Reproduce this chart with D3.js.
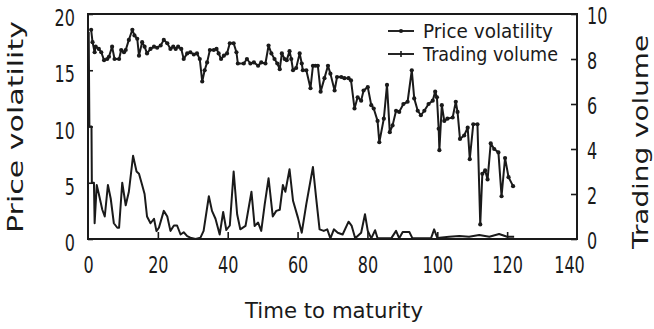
<!DOCTYPE html>
<html>
<head>
<meta charset="utf-8">
<script src="https://cdn.jsdelivr.net/npm/d3@7"></script>
<style>
  html, body { margin: 0; padding: 0; background: #fff; }
  svg { display: block; }
  text { fill: #1a1a1a; font-family: "DejaVu Sans", sans-serif; }
</style>
</head>
<body>
<svg id="chart" width="654" height="329"></svg>
<script>
// Days to maturity and price volatility (left axis)
const volatilityDays = [0.9,1.3,1.9,2.2,3.1,3.8,4.6,5.5,6.0,6.9,
  7.6,8.9,9.5,10.3,10.8,11.7,12.7,13.3,14.1,14.6,
  15.5,16.2,16.9,17.9,18.9,19.8,20.8,21.7,22.7,23.6,
  24.4,25.1,25.8,26.7,27.4,28.4,29.3,30.3,31.2,32.0,
  32.7,33.4,34.1,34.9,36.0,36.8,37.4,38.1,38.9,39.8,
  40.6,41.7,42.5,42.9,44.6,45.5,46.5,47.5,48.7,49.6,
  50.8,51.7,52.5,53.4,54.2,54.9,55.5,56.3,56.9,57.7,
  58.2,58.7,59.6,60.6,61.2,61.5,62.5,63.7,64.4,65.1,
  65.8,66.6,67.7,68.7,69.4,70.6,71.3,72.5,73.4,74.6,
  75.3,76.3,77.2,78.2,78.9,80.1,81.1,81.8,82.9,83.4,
  84.7,85.6,86.4,87.2,88.2,89.1,90.3,91.5,92.7,93.4,
  94.4,95.3,96.3,97.5,98.7,99.4,99.9,100.4,100.6,101.3,
  102.0,102.9,104.4,105.3,105.8,106.5,107.7,108.7,109.3,110.3,
  111.5,112.3,112.9,113.7,114.4,115.3,116.3,117.5,118.4,119.4,
  120.4,121.7];
const volatilityValues = [18.6,17.5,16.6,17.1,16.9,16.6,15.9,16.0,16.2,17.1,
  16.0,16.0,16.8,16.6,16.8,17.7,18.6,18.1,17.8,16.3,
  17.5,17.1,16.5,16.9,17.1,17.0,17.2,17.7,17.4,16.9,
  17.1,16.9,17.1,16.9,16.0,16.5,16.6,16.4,16.5,16.0,
  14.0,15.0,15.7,16.8,16.8,16.9,16.5,16.0,16.3,16.5,
  17.4,17.4,16.6,15.6,15.6,16.0,15.6,15.7,15.4,15.7,
  15.6,17.2,16.5,16.0,15.6,15.1,16.5,16.0,15.9,16.7,
  16.0,15.0,15.2,16.5,15.6,15.0,15.0,13.4,15.4,15.4,
  15.4,13.1,14.3,15.4,14.7,13.2,14.4,14.4,14.3,14.3,
  14.1,11.6,12.6,12.3,13.2,13.5,11.9,11.6,10.5,8.6,
  10.7,13.7,9.5,10.1,11.4,11.3,12.0,12.2,15.0,12.5,
  11.4,11.0,11.4,12.0,12.3,13.1,12.6,9.8,7.9,11.9,
  10.5,10.7,10.8,12.2,11.3,8.9,9.2,9.9,7.1,10.2,
  10.2,1.3,5.8,6.1,5.3,8.5,8.0,7.7,3.8,7.2,
  5.5,4.7];

// Days to maturity and trading volume (right axis)
const volumeDays = [0.2,0.4,1.0,1.1,1.7,1.9,2.5,3.1,4.1,4.8,
  5.7,6.5,7.4,8.4,8.9,9.8,10.8,11.7,12.9,13.9,
  14.6,15.5,16.2,16.9,17.9,18.9,19.6,20.3,21.7,22.7,
  23.6,24.6,25.5,26.5,27.4,28.4,29.3,30.8,32.2,33.1,
  34.6,35.5,36.5,37.7,38.7,39.6,40.6,41.7,42.7,43.6,
  45.1,46.8,47.7,48.7,49.6,50.6,51.7,52.9,53.9,54.9,
  55.8,56.5,57.7,58.7,60.1,61.2,62.5,64.4,65.3,66.3,
  67.5,68.5,69.4,70.4,71.5,72.9,74.6,75.5,76.5,78.2,
  79.3,80.1,81.1,82.2,82.9,86.8,88.2,89.1,90.1,92.0,
  92.9,98.2,99.1,100.0,103.4,106.3,109.1,112.0,114.9,117.7,
  120.0,122.0];
const volumeValues = [9.2,5.0,5.0,2.5,2.5,0.7,2.4,2.0,1.3,1.0,
  2.4,1.8,0.7,0.5,0.5,2.5,1.5,2.1,3.7,3.0,
  2.9,2.4,2.0,1.0,0.7,0.9,0.35,0.5,1.25,1.0,
  0.36,0.6,0.6,0.2,0.3,0.13,0.06,0.0,0.06,0.36,
  1.9,1.25,0.9,0.2,1.2,0.4,0.6,3.0,1.1,0.43,
  0.58,2.1,0.58,0.73,0.36,1.55,2.7,1.0,1.25,1.3,
  2.4,2.1,3.1,1.7,0.95,0.28,1.55,3.2,1.85,0.43,
  0.36,0.43,0.03,0.43,0.28,0.2,0.77,0.58,0.03,0.28,
  1.1,0.36,0.03,0.39,0.03,0.03,0.36,0.03,0.31,0.31,
  0.03,0.03,0.43,0.05,0.1,0.13,0.1,0.18,0.1,0.22,
  0.1,0.1];

const xTicks = [0, 20, 40, 60, 80, 100, 120, 140];
const leftTicks = [0, 5, 10, 15, 20];
const rightTicks = [0, 2, 4, 6, 8, 10];
const seriesNames = ["Price volatility", "Trading volume"];

const ink = "#1a1a1a";
const svg = d3.select("#chart");

const plot = { left: 88, right: 577, top: 14, bottom: 239 };
const x = d3.scaleLinear().domain([0, 140]).range([plot.left, plot.right]);
const yLeft = d3.scaleLinear().domain([0, 20]).range([plot.bottom, plot.top]);
const yRight = d3.scaleLinear().domain([0, 10]).range([plot.bottom, plot.top]);

// Tick labels: tall, narrow digits
function styleTickText(sel) {
  sel.selectAll("text")
    .attr("font-size", 23)
    .attr("fill", ink)
    .attr("lengthAdjust", "spacingAndGlyphs")
    .attr("textLength", function () { return this.textContent.length * 10.2; });
  sel.selectAll("line").attr("stroke", ink).attr("stroke-width", 1.6);
  sel.select(".domain").remove();
}

svg.append("g")
  .attr("transform", `translate(0,${plot.bottom})`)
  .call(d3.axisBottom(x).tickValues(xTicks).tickSize(-7).tickPadding(18).tickFormat(d3.format("d")))
  .call(styleTickText)
  .call(g => g.selectAll(".tick").filter(d => d === 0 || d === 140).select("line").remove())
  .call(g => g.selectAll(".tick").filter(d => d === 140).select("text").attr("dx", -8));

svg.append("g")
  .attr("transform", `translate(${plot.left},0)`)
  .call(d3.axisLeft(yLeft).tickValues(leftTicks).tickSize(-5).tickPadding(13).tickFormat(d3.format("d")))
  .call(styleTickText)
  .call(g => g.selectAll("text").attr("dy", "0.5em"));

svg.append("g")
  .attr("transform", `translate(${plot.right},0)`)
  .call(d3.axisRight(yRight).tickValues(rightTicks).tickSize(-6).tickPadding(10).tickFormat(d3.format("d")))
  .call(styleTickText)
  .call(g => g.selectAll("text").attr("dy", "0.42em"));

// Frame
svg.append("rect")
  .attr("x", plot.left).attr("y", plot.top)
  .attr("width", plot.right - plot.left).attr("height", plot.bottom - plot.top)
  .attr("fill", "none").attr("stroke", ink).attr("stroke-width", 2);

// Series
const volatility = volatilityDays.map((d, i) => ({ t: d, v: volatilityValues[i] }));
const volume = volumeDays.map((d, i) => ({ t: d, v: volumeValues[i] }));

svg.append("path")
  .datum(volume)
  .attr("fill", "none").attr("stroke", ink).attr("stroke-width", 2)
  .attr("stroke-linejoin", "round")
  .attr("d", d3.line().x(d => x(d.t)).y(d => yRight(d.v)));

svg.append("path")
  .datum(volatility)
  .attr("fill", "none").attr("stroke", ink).attr("stroke-width", 2)
  .attr("stroke-linejoin", "round")
  .attr("d", d3.line().x(d => x(d.t)).y(d => yLeft(d.v)));

svg.append("g").selectAll("circle")
  .data(volatility)
  .join("circle")
  .attr("cx", d => x(d.t)).attr("cy", d => yLeft(d.v))
  .attr("r", 2.1).attr("fill", ink);

// Legend
const legend = svg.append("g");
const legendRows = [{ y: 31, w: 130 }, { y: 54, w: 135 }];
legendRows.forEach((row, i) => {
  legend.append("line")
    .attr("x1", 388).attr("x2", 414).attr("y1", row.y).attr("y2", row.y)
    .attr("stroke", ink).attr("stroke-width", 1.9);
  if (i === 0) {
    legend.append("circle").attr("cx", 401).attr("cy", row.y).attr("r", 2.1).attr("fill", ink);
  } else {
    legend.append("line")
      .attr("x1", 401).attr("x2", 401).attr("y1", row.y - 3).attr("y2", row.y + 3)
      .attr("stroke", ink).attr("stroke-width", 1.6);
  }
  legend.append("text")
    .attr("x", 423).attr("y", row.y + 7)
    .attr("font-size", 19)
    .attr("lengthAdjust", "spacingAndGlyphs")
    .attr("textLength", row.w)
    .text(seriesNames[i]);
});

// Axis titles
svg.append("text")
  .attr("x", 334).attr("y", 318)
  .attr("text-anchor", "middle")
  .attr("font-size", 21)
  .attr("lengthAdjust", "spacingAndGlyphs")
  .attr("textLength", 178)
  .text("Time to maturity");

svg.append("text")
  .attr("transform", "translate(23,127) rotate(-90)")
  .attr("text-anchor", "middle")
  .attr("font-size", 22)
  .attr("lengthAdjust", "spacingAndGlyphs")
  .attr("textLength", 212)
  .text("Price volatility");

svg.append("text")
  .attr("transform", "translate(648,142) rotate(-90)")
  .attr("text-anchor", "middle")
  .attr("font-size", 21)
  .attr("lengthAdjust", "spacingAndGlyphs")
  .attr("textLength", 214)
  .text("Trading volume");
</script>
</body>
</html>
